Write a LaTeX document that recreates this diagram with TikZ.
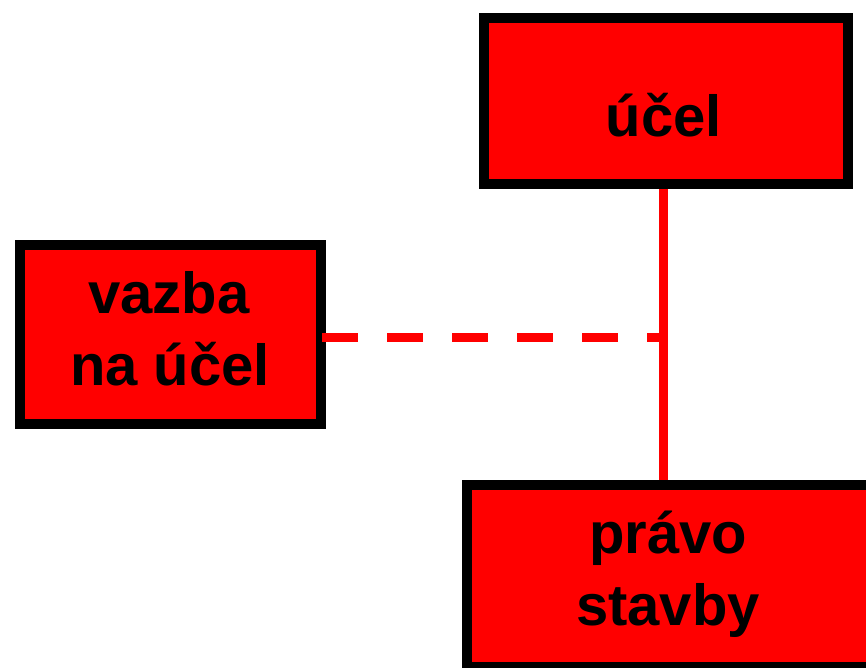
\documentclass[tikz,border=0pt]{standalone}
\usepackage{fontspec}
\setmainfont{Liberation Sans}
\definecolor{boxred}{RGB}{255,0,0}
\begin{document}
\begin{tikzpicture}[x=1pt,y=-1pt,
  redbox/.style={draw=black, fill=boxred, line width=10pt, inner sep=0pt, outer sep=0pt},
  txt/.style={font=\fontsize{58}{72}\selectfont\bfseries, text=black, inner sep=0pt, anchor=base},
  conn/.style={draw=boxred, line width=9pt},
  dashconn/.style={conn, dash pattern=on 36pt off 29pt}]
\useasboundingbox (0,0) rectangle (866,668);
\clip (0,0) rectangle (866,668);
\node[redbox, minimum width=364pt, minimum height=166pt] (ucel) at (666,101) {};
\node[redbox, minimum width=301pt, minimum height=179pt] (vazba) at (170.5,334.5) {};
\node[redbox, minimum width=420pt, minimum height=182pt] (pravo) at (677,576) {};
\node[txt] (ucelt) at (664,137) {účel};
\node[txt] (vazbat1) at (169,313) {vazba};
\node[txt] (vazbat2) at (170,385) {na účel};
\node[txt] (pravot1) at (668,553) {právo};
\node[txt] (pravot2) at (668,625) {stavby};
\coordinate (top) at ([xshift=-3pt]ucel.south);
\coordinate (bot) at (top |- pravo.north);
\coordinate (join) at (663,337);
\draw[conn, shorten <=5pt, shorten >=5pt] (top) -- (bot);
\draw[dashconn] (vazba.east |- join) ++(1,0) -- (join);
\end{tikzpicture}
\end{document}
